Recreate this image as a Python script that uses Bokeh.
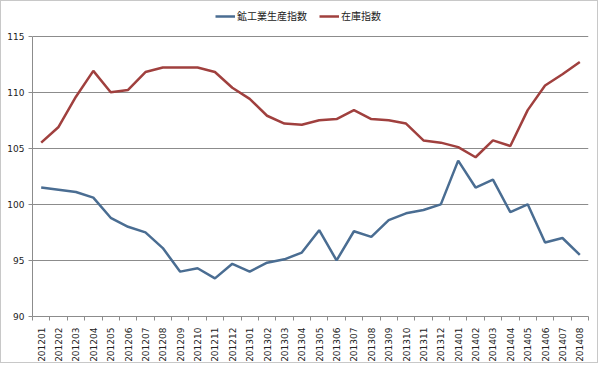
import math
from bokeh.plotting import figure
from bokeh.models import ColumnDataSource, FixedTicker, Legend, LegendItem, Range1d
from bokeh.embed import file_html
from bokeh.resources import INLINE

months = ["201201", "201202", "201203", "201204", "201205", "201206", "201207", "201208",
          "201209", "201210", "201211", "201212", "201301", "201302", "201303", "201304",
          "201305", "201306", "201307", "201308", "201309", "201310", "201311", "201312",
          "201401", "201402", "201403", "201404", "201405", "201406", "201407", "201408"]
production = [101.5, 101.3, 101.1, 100.6, 98.8, 98.0, 97.5, 96.1,
              94.0, 94.3, 93.4, 94.7, 94.0, 94.8, 95.1, 95.7,
              97.7, 95.0, 97.6, 97.1, 98.6, 99.2, 99.5, 100.0,
              103.9, 101.5, 102.2, 99.3, 100.0, 96.6, 97.0, 95.5]
inventory = [105.5, 106.9, 109.6, 111.9, 110.0, 110.2, 111.8, 112.2,
             112.2, 112.2, 111.8, 110.4, 109.4, 107.9, 107.2, 107.1,
             107.5, 107.6, 108.4, 107.6, 107.5, 107.2, 105.7, 105.5,
             105.1, 104.2, 105.7, 105.2, 108.4, 110.6, 111.6, 112.7]
series_names = ["鉱工業生産指数", "在庫指数"]
y_ticks = [90, 95, 100, 105, 110, 115]

idx = list(range(len(months)))
src = ColumnDataSource(dict(x=idx, prod=production, inv=inventory))

BLUE = "#4A6D92"
RED = "#A0403E"
GRID = "#8C8C8C"

# frame extends above 115 to leave room for the legend (axis line bounded at 90..115)
y_top = 115 + 30 / 11.36

p = figure(width=598, height=363, output_backend="svg", toolbar_location=None,
           x_range=Range1d(-0.5, len(months) - 0.5), y_range=Range1d(90, y_top))
p.styles = {"border": "1px solid #C8C8C8"}
p.outline_line_color = None
p.background_fill_color = "white"
p.border_fill_color = "white"
p.min_border_left = 31
p.min_border_right = 11
p.min_border_top = 5
p.min_border_bottom = 44

r1 = p.line("x", "prod", source=src, line_color=BLUE, line_width=2.5)
r2 = p.line("x", "inv", source=src, line_color=RED, line_width=2.5)

# x axis
p.xaxis.ticker = FixedTicker(ticks=idx, minor_ticks=[i - 0.5 for i in range(len(months) + 1)])
p.xaxis.major_label_overrides = {i: m for i, m in enumerate(months)}
p.xaxis.major_label_orientation = math.pi / 2
p.xaxis.major_tick_line_color = None
p.xaxis.minor_tick_line_color = GRID
p.xaxis.minor_tick_out = 4
p.xaxis.minor_tick_in = 0
p.xaxis.axis_line_color = GRID
p.xaxis.major_label_text_font = "DejaVu Sans"
p.xaxis.major_label_text_font_size = "9px"
p.xaxis.major_label_text_color = "#222222"
p.xaxis.major_label_standoff = 5
p.xgrid.grid_line_color = None

# y axis
p.yaxis.ticker = FixedTicker(ticks=y_ticks, minor_ticks=[])
p.yaxis.bounds = (90, 115)
p.yaxis.major_tick_line_color = GRID
p.yaxis.major_tick_out = 4
p.yaxis.major_tick_in = 0
p.yaxis.minor_tick_line_color = None
p.yaxis.axis_line_color = GRID
p.yaxis.major_label_text_font = "DejaVu Sans"
p.yaxis.major_label_text_font_size = "9px"
p.yaxis.major_label_text_color = "#222222"
p.yaxis.major_label_standoff = 4
p.ygrid.grid_line_color = GRID
p.ygrid.grid_line_width = 1

legend = Legend(items=[LegendItem(label=series_names[0], renderers=[r1]),
                       LegendItem(label=series_names[1], renderers=[r2])],
                orientation="horizontal", location=(183, 293))
legend.label_text_font = "Noto Sans CJK JP"
legend.label_text_font_size = "10px"
legend.label_text_color = "#222222"
legend.glyph_width = 20
legend.glyph_height = 10
legend.label_standoff = 2
legend.spacing = 12
legend.padding = 2
legend.margin = 0
legend.border_line_color = None
legend.background_fill_alpha = 0
p.add_layout(legend)

open("out.html", "w").write(file_html(p, INLINE))
